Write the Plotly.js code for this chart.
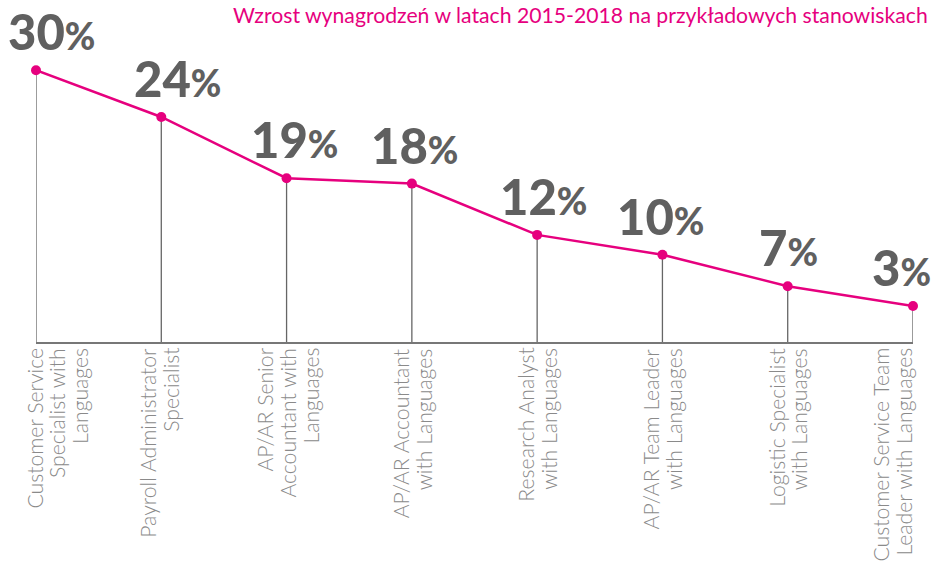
<!DOCTYPE html>
<html>
<head>
<meta charset="utf-8">
<script src="https://cdn.plot.ly/plotly-3.0.1.min.js"></script>
<style>html,body{margin:0;padding:0;background:#fff;}#chart{width:939px;height:568px;}</style>
</head>
<body>
<div id="chart"></div>
<script>
// Categories (job positions)
const positions = [
  "Customer Service<br>Specialist with<br>Languages",
  "Payroll Administrator<br>Specialist",
  "AP/AR Senior<br>Accountant with<br>Languages",
  "AP/AR Accountant<br>with Languages",
  "Research Analyst<br>with Languages",
  "AP/AR Team Leader<br>with Languages",
  "Logistic Specialist<br>with Languages",
  "Customer Service Team<br>Leader with Languages"
];
// Labelled salary growth 2015-2018 (%)
const growthLabel = [30, 24, 19, 18, 12, 10, 7, 3];
// Plotted marker heights
const growthPlotted = [30.2, 25.0, 18.2, 17.6, 11.9, 9.7, 6.2, 4.0];
const titleText = "Wzrost wynagrodzeń w latach 2015-2018 na przykładowych stanowiskach";

const idx = positions.map((_, i) => i);
const pink = "#e6007e";
const labelShift = [15, 16, 8, 3, 6, -2, 1, -12];
const catShift = [21, -2, 1, 1, 0, 0, 0, -21];
const lineGap = 23;

const trace = {
  x: idx,
  y: growthPlotted,
  type: "scatter",
  mode: "lines+markers",
  line: {color: pink, width: 2.5},
  marker: {color: pink, size: 10},
  cliponaxis: false,
  error_y: {
    type: "data", symmetric: false,
    array: growthPlotted.map(() => 0),
    arrayminus: growthPlotted,
    color: "#666666", thickness: 1.3, width: 0
  },
  hoverinfo: "skip"
};

const annotations = [];
growthPlotted.forEach((v, i) => {
  annotations.push({
    x: i, y: v, xref: "x", yref: "y",
    text: growthLabel[i] + '<span style="font-size:37px">%</span>',
    showarrow: false, xanchor: "center", yanchor: "bottom",
    xshift: labelShift[i], yshift: 8,
    font: {family: "'Lato Black', Lato, sans-serif", size: 49, color: "#606060", weight: 900}
  });
  const lines = positions[i].split("<br>");
  lines.forEach((ln, j) => {
    annotations.push({
      x: i, y: 0, xref: "x", yref: "paper",
      text: ln, textangle: -90,
      showarrow: false, xanchor: "center", yanchor: "top",
      xshift: catShift[i] + (j - (lines.length - 1) / 2) * lineGap, yshift: -4,
      font: {family: "Lato, sans-serif", size: 21.2, color: "#8a8a8a", weight: 300}
    });
  });
});

const layout = {
  width: 939, height: 568,
  margin: {l: 36, r: 26, t: 27, b: 226},
  paper_bgcolor: "#fff", plot_bgcolor: "#fff",
  showlegend: false,
  title: {
    text: titleText, xref: "container", yref: "container",
    x: 0.988, xanchor: "right", y: 1 - 16/568, yanchor: "middle",
    font: {family: "Lato, sans-serif", size: 21.2, color: pink}
  },
  xaxis: {
    range: [0, 7], showgrid: false, zeroline: false,
    showline: true, linecolor: "#777", linewidth: 1.5,
    showticklabels: false, ticks: "", fixedrange: true
  },
  yaxis: {
    range: [0, 35], showgrid: false, zeroline: false,
    showline: false, showticklabels: false, ticks: "", fixedrange: true
  },
  annotations: annotations
};

Plotly.newPlot("chart", [trace], layout, {displayModeBar: false, staticPlot: true});
</script>
</body>
</html>
